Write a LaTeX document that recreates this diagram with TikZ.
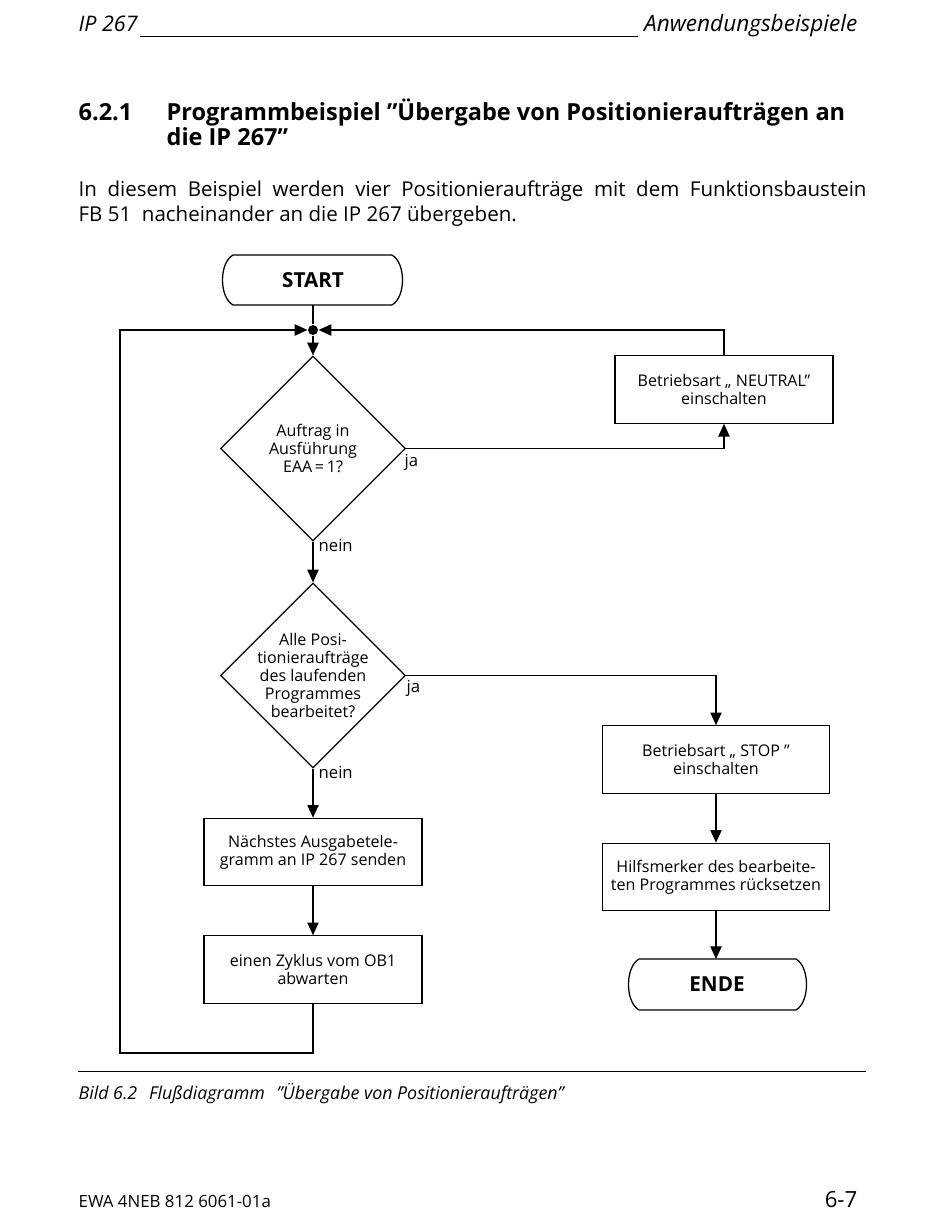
\documentclass[tikz,border=0pt]{standalone}
\usepackage{fontspec}
\setmainfont{Open Sans}
\usetikzlibrary{arrows.meta,shapes.geometric}
\begin{document}
\begin{tikzpicture}[x=0.02211cm,y=-0.02211cm,
  line width=0.8pt,
  arr/.style={-{Triangle[length=2.8mm,width=2.5mm]}},
  boxtext/.style={font=\fontsize{10.1}{11.3}\selectfont, align=center},
  procbox/.style={draw, rectangle, boxtext, minimum width=4.82cm, minimum height=1.49cm, inner sep=0},
  widebox/.style={procbox, minimum width=5.02cm},
  decision/.style={draw, diamond, boxtext, minimum width=4.09cm, minimum height=4.09cm, inner sep=-12pt, aspect=1},
  termtext/.style={font=\fontsize{13}{14}\bfseries\selectfont, inner sep=0},
  lab/.style={font=\fontsize{10.5}{12}\selectfont, inner sep=0}
  ]
\useasboundingbox (0,0) rectangle (950,1212);
% header
\node[anchor=base west, inner sep=0, font=\fontsize{13.5}{15}\itshape\selectfont] (hl) at (78,31) {IP 267};
\node[anchor=base east, inner sep=0, font=\fontsize{14.2}{15}\itshape\selectfont] (hr) at (858,31) {Anwendungsbeispiele};
\draw[line width=0.45pt] (140,36) -- (638,36);
% title
\node[anchor=base west, inner sep=0, font=\fontsize{14.8}{17}\bfseries\selectfont] (tn) at (78,120) {6.2.1};
\node[anchor=base west, inner sep=0, font=\fontsize{14.8}{17}\bfseries\selectfont] (t1) at (166,120) {Programmbeispiel ”Übergabe von Positionieraufträgen an};
\node[anchor=base west, inner sep=0, font=\fontsize{14.8}{17}\bfseries\selectfont] (t2) at (166,145) {die IP 267”};
% body
\node[anchor=base west, inner sep=0, font=\fontsize{12.9}{16}\selectfont] (p1) at (78,196) {\makebox[17.42cm][s]{In diesem Beispiel werden vier Positionieraufträge mit dem Funktionsbaustein}};
\node[anchor=base west, inner sep=0, font=\fontsize{12.9}{16}\selectfont] (p2) at (78,221) {FB 51\ \ nacheinander an die IP 267 übergeben.};
% terminals
\node[termtext] (start) at (313,280) {START};
\draw (233,255) -- (392,255) .. controls (406,263) and (406,297) .. (392,305) -- (233,305) .. controls (219,297) and (219,263) .. (233,255) -- cycle;
\coordinate (startb) at (313,305);
\node[termtext] (ende) at (717,984) {ENDE};
\draw (639,959) -- (796,959) .. controls (810,967) and (810,1002) .. (796,1010) -- (639,1010) .. controls (625,1002) and (625,967) .. (639,959) -- cycle;
\coordinate (endet) at (716,959);
% junction
\node[circle, fill, inner sep=0, minimum size=0.22cm] (j) at (313,330) {};
% decisions
\node[decision] (d1) at (313,448.5) {Auftrag in\\Ausführung\\EAA\,=\,1?};
\node[decision] (d2) at (313,675.5) {Alle Posi-\\tionieraufträge\\des laufenden\\Programmes\\bearbeitet?};
% boxes
\node[procbox] (neutral) at (724,389.5) {Betriebsart „ NEUTRAL”\\einschalten};
\node[widebox] (stop) at (716,759.5) {Betriebsart „ STOP ”\\einschalten};
\node[widebox] (hilf) at (716,877) {Hilfsmerker des bearbeite-\\ten Programmes rücksetzen};
\node[procbox] (b3) at (313,852) {Nächstes Ausgabetele-\\gramm an IP 267 senden};
\node[procbox] (b4) at (313,969.5) {einen Zyklus vom OB1\\abwarten};
% loop coordinates
\coordinate (cl) at (120,1053);
\coordinate (ct) at (120,330);
% connectors
\draw (startb) -- (j);
\draw[arr] (j) -- (d1.north);
\draw[arr] (d1.east) -| (neutral.south);
\draw[arr] (neutral.north) |- (j);
\draw[arr] (d1.south) -- (d2.north);
\draw[arr] (d2.east) -| (stop.north);
\draw[arr] (d2.south) -- (b3.north);
\draw[arr] (b3.south) -- (b4.north);
\draw[arr] (b4.south) |- (cl) -- (ct) -- (j);
\draw[arr] (stop.south) -- (hilf.north);
\draw[arr] (hilf.south) -- (endet);
% labels
\node[lab, anchor=north west] (ja1) at (404,454) {ja};
\node[lab, anchor=north west] (nein1) at (318,539) {nein};
\node[lab, anchor=north west] (ja2) at (406,680) {ja};
\node[lab, anchor=north west] (nein2) at (318,766) {nein};
% bottom rule and caption
\draw[line width=0.6pt] (78,1071) -- (866,1071);
\node[anchor=base west, inner sep=0, font=\fontsize{11.2}{13}\itshape\selectfont] (cap) at (78,1099) {Bild 6.2\hspace{2.6mm}Flußdiagramm\hspace{2.6mm}”Übergabe von Positionieraufträgen”};
% footer
\node[anchor=base west, inner sep=0, font=\fontsize{10.6}{13}\selectfont] (fl) at (78,1207) {EWA 4NEB 812 6061-01a};
\node[anchor=base east, inner sep=0, font=\fontsize{14}{16}\selectfont] (fr) at (858,1207) {6-7};
\end{tikzpicture}
\end{document}
